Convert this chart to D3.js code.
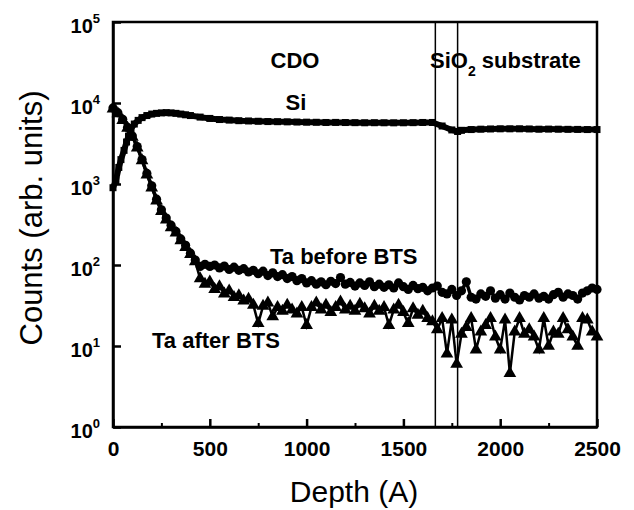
<!DOCTYPE html>
<html>
<head>
<meta charset="utf-8">
<script src="https://cdn.jsdelivr.net/npm/d3@7"></script>
<style>
  html, body { margin: 0; padding: 0; background: #fff; }
  svg { display: block; }
  text { font-family: "Liberation Sans", Arial, sans-serif; fill: #000; }
</style>
</head>
<body>
<svg id="chart" width="634" height="510"></svg>
<script>
// ---- Data ----
const siDepth = [0,15,30,41,57,70,80,93,110,130,150,175,200,225,250,275,300,325,350,375,400,450,500,550,600,650,700,750,800,850,900,950,1000,1050,1100,1150,1200,1250,1300,1350,1400,1450,1500,1550,1600,1650,1700,1750,1780,1800,1850,1900,1950,2000,2050,2100,2150,2200,2250,2300,2350,2400,2450,2500];
const siCounts = [900,1100,1600,2000,2600,3300,3900,4800,5500,6100,6600,7000,7300,7450,7550,7600,7550,7450,7300,7150,7000,6700,6450,6250,6150,6050,6000,5950,5900,5880,5850,5820,5800,5780,5750,5760,5740,5720,5700,5710,5700,5690,5700,5720,5750,5750,5200,4650,4450,4600,4700,4750,4780,4800,4800,4800,4780,4750,4760,4750,4730,4720,4700,4700];

const taDepth = [0,25,50,75,100,125,150,175,200,225,250,275,300,325,350,375,400,425,450,475,500,525,550,575,600,625,650,675,700,725,750,775,800,825,850,875,900,925,950,975,1000,1025,1050,1075,1100,1125,1150,1175,1200,1225,1250,1275,1300,1325,1350,1375,1400,1425,1450,1475,1500,1525,1550,1575,1600,1625,1650,1675,1700,1725,1750,1775,1800,1825,1850,1875,1900,1925,1950,1975,2000,2025,2050,2075,2100,2125,2150,2175,2200,2225,2250,2275,2300,2325,2350,2375,2400,2425,2450,2475,2500];
const taBefore = [8700,7600,6300,5000,3900,2900,2000,1350,950,650,480,380,310,260,210,175,140,115,96,102,96,100,92,97,88,94,86,90,82,86,78,84,74,80,72,76,68,72,64,68,60,64,58,62,57,63,59,70,58,61,55,60,56,62,54,58,53,57,52,60,54,50,56,51,53,48,52,55,46,44,50,42,48,62,40,38,44,41,48,39,43,38,45,40,37,42,40,44,39,41,38,43,46,40,44,42,38,45,48,52,50];
const taAfter = [8500,7400,6100,4900,3800,2800,1950,1300,900,620,460,360,290,250,200,165,135,110,68,58,62,50,54,44,48,40,42,36,38,32,19,31,34,23,30,27,32,28,25,30,18,30,34,28,32,26,30,35,28,31,27,33,29,25,31,27,30,18,28,32,26,19,29,24,27,22,20,16,22,8,21,6,14,17,22,9,15,18,22,13,9,21,4.6,15,22,14,16,13,9,22,10,15,14,22,16,13,10,22,21,15,13];

const xTicks = [0,500,1000,1500,2000,2500];
const xMinorTicks = [250,750,1250,1750,2250];
const yTicks = [1,10,100,1000,10000,100000];
const yTickExp = ["0","1","2","3","4","5"];
const interfaceDepths = [1665,1780];

const xTitle = "Depth (A)";
const yTitle = "Counts (arb. units)";

// ---- Layout ----
const svg = d3.select("#chart");
const L = 113, R = 597, T = 22, B = 427;

const x = d3.scaleLinear().domain([0,2500]).range([L,R]);
const y = d3.scaleLog().domain([1,1e5]).range([B,T]);

// interface lines
svg.append("g").selectAll("line").data(interfaceDepths).join("line")
  .attr("x1", d => x(d)).attr("x2", d => x(d))
  .attr("y1", T).attr("y2", B)
  .attr("stroke", "#000").attr("stroke-width", 1.5);

// ---- Series ----
const siData = siDepth.map((d,i) => [d, siCounts[i]]);
const befData = taDepth.map((d,i) => [d, taBefore[i]]);
const aftData = taDepth.map((d,i) => [d, taAfter[i]]);
const line = d3.line().x(d => x(d[0])).y(d => y(d[1]));

const g = svg.append("g");
// Ta after BTS (triangles)
g.append("path").datum(aftData).attr("d", line)
  .attr("fill","none").attr("stroke","#000").attr("stroke-width",2.5);
g.append("g").selectAll("path").data(aftData).join("path")
  .attr("transform", d => `translate(${x(d[0])},${y(d[1])})`)
  .attr("d", d3.symbol(d3.symbolTriangle, 70)())
  .attr("fill","#000");
// Ta before BTS (circles)
g.append("path").datum(befData).attr("d", line)
  .attr("fill","none").attr("stroke","#000").attr("stroke-width",3.5);
g.append("g").selectAll("circle").data(befData).join("circle")
  .attr("cx", d => x(d[0])).attr("cy", d => y(d[1])).attr("r", 4.6)
  .attr("fill","#000");
// Si (squares)
g.append("path").datum(siData).attr("d", line)
  .attr("fill","none").attr("stroke","#000").attr("stroke-width",6);
g.append("g").selectAll("rect").data(siData).join("rect")
  .attr("x", d => x(d[0]) - 3.5).attr("y", d => y(d[1]) - 3.5)
  .attr("width", 7).attr("height", 7).attr("fill","#000");

// ---- Frame ----
svg.append("rect").attr("x", L).attr("y", T).attr("width", R-L).attr("height", B-T)
  .attr("fill","none").attr("stroke","#000").attr("stroke-width",2.5);

// ---- Axes ----
const xAxis = svg.append("g").attr("transform", `translate(0,${B})`)
  .call(d3.axisBottom(x).tickValues(xTicks).tickSizeInner(-8).tickSizeOuter(0).tickPadding(14).tickFormat(d3.format("d")));
xAxis.select(".domain").attr("stroke-width",2.5);
xAxis.selectAll(".tick line").attr("stroke-width",2.5);
xAxis.selectAll("text").attr("font-size", 21).attr("font-weight","bold")
  .attr("font-family",'"Liberation Sans", Arial, sans-serif');

const xMinor = svg.append("g").attr("transform", `translate(0,${B})`)
  .call(d3.axisBottom(x).tickValues(xMinorTicks).tickSizeInner(-4).tickSizeOuter(0).tickFormat(""));
xMinor.select(".domain").remove();
xMinor.selectAll(".tick line").attr("stroke-width",2);

const yAxis = svg.append("g").attr("transform", `translate(${L},0)`)
  .call(d3.axisLeft(y).tickValues(yTicks).tickSizeInner(-8).tickSizeOuter(0).tickPadding(13).tickFormat(""));
yAxis.select(".domain").attr("stroke-width",2.5);
yAxis.selectAll(".tick line").attr("stroke-width",2.5);
yAxis.selectAll(".tick text").each(function(d,i) {
  const t = d3.select(this).attr("dy", null).attr("y", 10)
    .attr("font-family",'"Liberation Sans", Arial, sans-serif')
    .attr("font-weight","bold").attr("font-size", 20).attr("text-anchor","end");
  t.append("tspan").text("10");
  t.append("tspan").attr("font-size", 13).attr("dy", -10).text(yTickExp[i]);
});

// ---- Titles ----
svg.append("text").attr("x", 354).attr("y", 502).attr("text-anchor","middle")
  .attr("font-size", 30).text(xTitle);
svg.append("text").attr("transform", "translate(42,218) rotate(-90)")
  .attr("text-anchor","middle").attr("font-size", 31).text(yTitle);

// ---- Annotations ----
const ann = svg.append("g").attr("font-weight","bold").attr("font-size", 22);
ann.append("text").attr("x", 295).attr("y", 68).attr("text-anchor","middle").text("CDO");
ann.append("text").attr("x", 296).attr("y", 110).attr("text-anchor","middle").text("Si");
const sio = ann.append("text").attr("x", 430).attr("y", 68);
sio.append("tspan").text("SiO");
sio.append("tspan").attr("font-size", 14).attr("dy", 8).text("2");
sio.append("tspan").attr("dy", -8).text(" substrate");
ann.append("text").attr("x", 270).attr("y", 264).text("Ta before BTS");
ann.append("text").attr("x", 152).attr("y", 348).text("Ta after BTS");
</script>
</body>
</html>
